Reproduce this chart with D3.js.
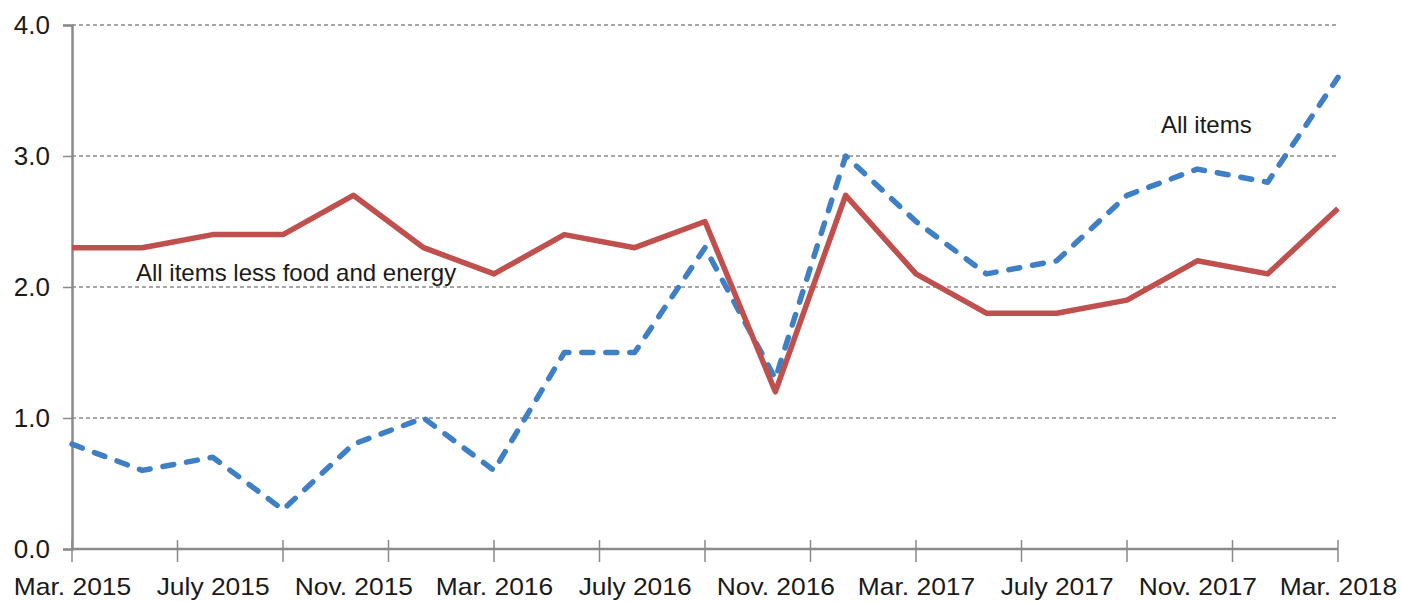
<!DOCTYPE html>
<html>
<head>
<meta charset="utf-8">
<script src="https://cdn.jsdelivr.net/npm/d3@7"></script>
<style>
  body { margin: 0; background: #fff; }
  text { font-family: "Liberation Sans", Arial, sans-serif; fill: #1a1a1a; }
</style>
</head>
<body>
<script>
// months, every 2 months from Mar. 2015 to Mar. 2018
var months = ["Mar. 2015", "May 2015", "July 2015", "Sep. 2015", "Nov. 2015", "Jan. 2016",
    "Mar. 2016", "May 2016", "July 2016", "Sep. 2016", "Nov. 2016", "Jan. 2017",
    "Mar. 2017", "May 2017", "July 2017", "Sep. 2017", "Nov. 2017", "Jan. 2018", "Mar. 2018"];
var allItems = [0.8, 0.6, 0.7, 0.3, 0.8, 1.0, 0.6, 1.5, 1.5, 2.3, 1.3, 3.0, 2.5, 2.1, 2.2, 2.7, 2.9, 2.8, 3.6];
var coreItems = [2.3, 2.3, 2.4, 2.4, 2.7, 2.3, 2.1, 2.4, 2.3, 2.5, 1.2, 2.7, 2.1, 1.8, 1.8, 1.9, 2.2, 2.1, 2.6];
var xLabels = ["Mar. 2015", "July 2015", "Nov. 2015", "Mar. 2016", "July 2016",
    "Nov. 2016", "Mar. 2017", "July 2017", "Nov. 2017", "Mar. 2018"];
var yTicks = [0, 1, 2, 3, 4];

function graficar() {
    var w = 1401, h = 602;
    var left = 72, right = 1338, top = 25, bottom = 549;

    var svg = d3.select("body").append("svg")
        .attr("width", w)
        .attr("height", h);

    var x = d3.scaleLinear().domain([0, months.length - 1]).range([left, right]);
    var y = d3.scaleLinear().domain([0, 4]).range([bottom, top]);

    // dashed gridlines
    svg.append("g")
        .selectAll("line")
        .data(yTicks.slice(1))
        .enter()
        .append("line")
        .attr("x1", left)
        .attr("x2", right)
        .attr("y1", function (d) { return y(d); })
        .attr("y2", function (d) { return y(d); })
        .attr("stroke", "#8a8a8a")
        .attr("stroke-width", 1.3)
        .attr("stroke-dasharray", "4,3");

    // y axis
    var yAxis = svg.append("g")
        .attr("transform", "translate(" + left + ",0)")
        .call(d3.axisLeft(y).tickValues(yTicks).tickFormat(d3.format(".1f")).tickSize(9).tickPadding(13));
    yAxis.select(".domain").attr("stroke", "#8a8a8a").attr("stroke-width", 2.5);
    yAxis.selectAll(".tick line").attr("stroke", "#8a8a8a").attr("stroke-width", 1.5);
    yAxis.selectAll("text").style("font-size", "26px").attr("fill", "#1a1a1a");

    // x axis: tick marks every 1.5 steps (cross style)
    var tickPos = d3.range(0, months.length, 1.5);
    svg.append("g")
        .selectAll("line")
        .data(tickPos)
        .enter()
        .append("line")
        .attr("x1", function (d) { return x(d); })
        .attr("x2", function (d) { return x(d); })
        .attr("y1", bottom - 9)
        .attr("y2", bottom + 13)
        .attr("stroke", "#8a8a8a")
        .attr("stroke-width", 1.5);

    svg.append("line")
        .attr("x1", left)
        .attr("x2", right)
        .attr("y1", bottom)
        .attr("y2", bottom)
        .attr("stroke", "#8a8a8a")
        .attr("stroke-width", 2.5);

    // x labels every other month point
    var xAxis = svg.append("g")
        .attr("transform", "translate(0," + bottom + ")")
        .call(d3.axisBottom(x)
            .tickValues(d3.range(0, months.length, 2))
            .tickSize(0)
            .tickPadding(29)
            .tickFormat(function (d, i) { return xLabels[i]; }));
    xAxis.select(".domain").remove();
    xAxis.selectAll("text").style("font-size", "24px").attr("fill", "#1a1a1a")
        .attr("transform", "scale(1.1,1)");

    var line = d3.line()
        .x(function (d, i) { return x(i); })
        .y(function (d) { return y(d); });

    svg.append("path")
        .datum(allItems)
        .attr("d", line)
        .attr("fill", "none")
        .attr("stroke", "#3f7fc6")
        .attr("stroke-width", 5.5)
        .attr("stroke-linecap", "round")
        .attr("stroke-linejoin", "round")
        .attr("stroke-dasharray", "11,13");

    svg.append("path")
        .datum(coreItems)
        .attr("d", line)
        .attr("fill", "none")
        .attr("stroke", "#c0504d")
        .attr("stroke-width", 5.5)
        .attr("stroke-linejoin", "round");

    // series labels
    svg.append("text")
        .attr("x", 136)
        .attr("y", 281)
        .style("font-size", "24px")
        .text("All items less food and energy");

    svg.append("text")
        .attr("x", 1161)
        .attr("y", 133)
        .style("font-size", "24px")
        .text("All items");
}

graficar();
</script>
</body>
</html>
